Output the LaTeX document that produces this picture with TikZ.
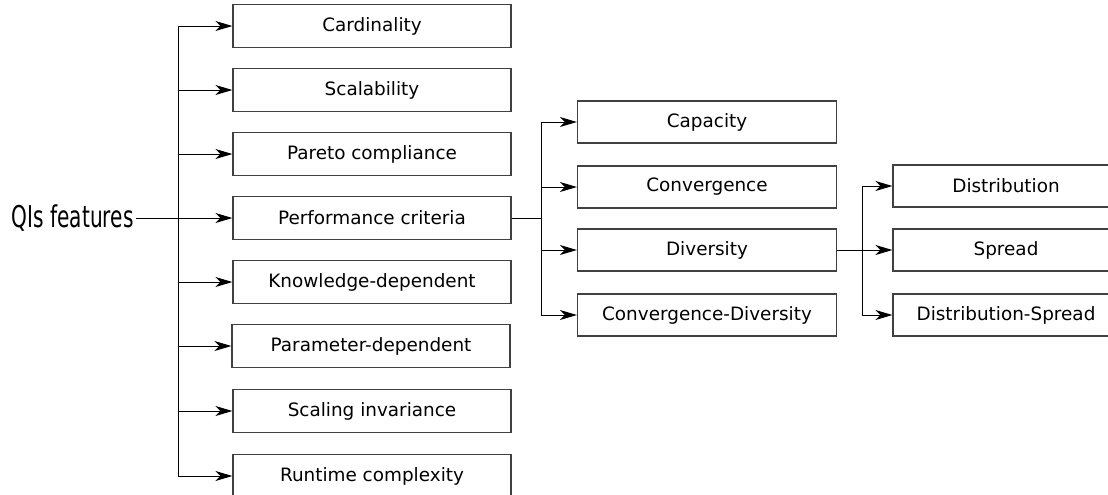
\documentclass[tikz,border=0pt]{standalone}
\usepackage{fontspec}
\setmainfont{DejaVu Sans}
\usetikzlibrary{arrows.meta}

\tikzset{
  featbox/.style={draw=black!75, line width=0.6pt, inner sep=0pt,
    minimum width=139pt, minimum height=21.5pt, font=\fontsize{9.2}{11}\selectfont},
  critbox/.style={featbox, minimum width=129.5pt, minimum height=21pt},
  divbox/.style={featbox, minimum width=113pt, minimum height=21pt},
  arr/.style={-{Stealth[length=8.5pt,width=5pt,inset=2.5pt]}},
  link/.style={line width=0.5pt, black}
}

\begin{document}
\begin{tikzpicture}[x=0.5pt, y=-0.5pt]
		\clip (0,0) rectangle (1108,494);
		
		% root
		\node[anchor=east, inner sep=1pt, font=\fontsize{15}{18}\selectfont] (qis) at (136,218) {\scalebox{0.67}[1]{QIs features}};
		
		% first level
		\node[featbox] (card) at (372,26) {Cardinality};
		\node[featbox] (scal) at (372,90) {Scalability};
		\node[featbox] (par) at (372,154) {Pareto compliance};
		\node[featbox] (perf) at (372,218) {Performance criteria};
		\node[featbox] (know) at (372,282) {Knowledge-dependent};
		\node[featbox] (prm) at (371,346) {Parameter-dependent};
		\node[featbox] (sinv) at (372,411) {Scaling invariance};
		\node[featbox] (run) at (372,476) {Runtime complexity};
		
		% performance criteria
		\node[critbox] (cap) at (707,122) {Capacity};
		\node[critbox] (conv) at (707,187) {Convergence};
		\node[critbox] (div) at (707,250) {Diversity};
		\node[critbox] (cdiv) at (707,315) {Convergence-Diversity};
		
		% diversity
		\node[divbox] (dist) at (1006,186) {Distribution};
		\node[divbox] (spr) at (1006,250) {Spread};
		\node[divbox] (dspr) at (1006,315) {Distribution-Spread};
		
		\coordinate (spine) at (178,218);
		\coordinate (fork) at (541,218);
		\coordinate (twig) at (862,250);
		
		\draw[link] (spine |- card) -- (spine |- run);
		\draw[link, arr] (qis.east) -- (perf.west);
		\foreach \n in {card,scal,par,know,prm,sinv,run}
			\draw[link, arr] (spine |- \n) -- (\n.west);
		
		\draw[link] (perf.east) -- (fork);
		\draw[link] (fork |- cap) -- (fork |- cdiv);
		\foreach \n in {cap,conv,div,cdiv}
			\draw[link, arr] (fork |- \n) -- (\n.west);
		
		\draw[link, arr] (div.east) -- (spr.west);
		\draw[link] (twig |- dist) -- (twig |- dspr);
		\foreach \n in {dist,dspr}
			\draw[link, arr] (twig |- \n) -- (\n.west);
	\end{tikzpicture}
\end{document}
